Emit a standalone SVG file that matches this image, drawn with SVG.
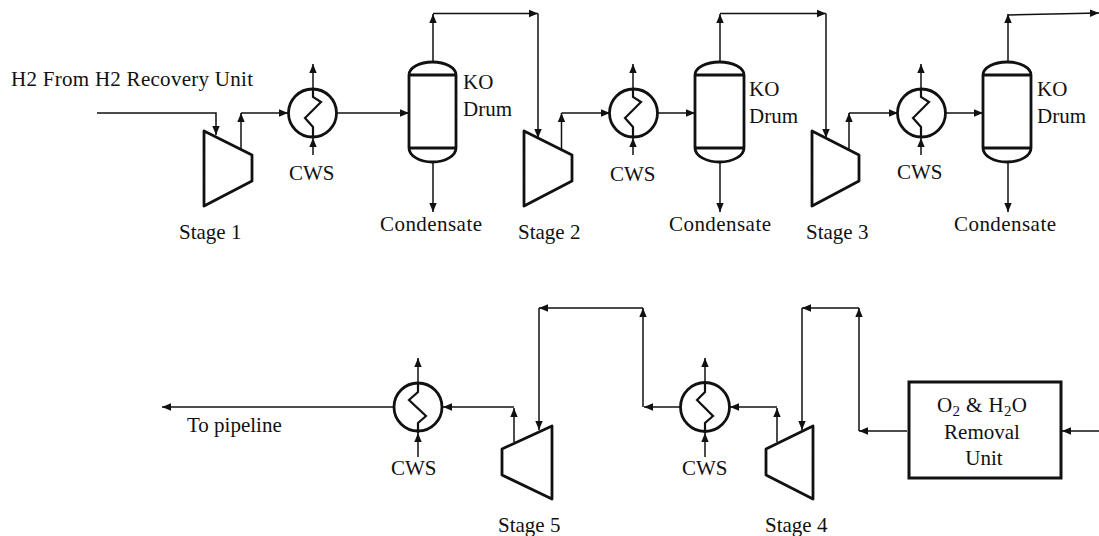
<svg xmlns="http://www.w3.org/2000/svg" width="1099" height="536" viewBox="0 0 1099 536">
<style>
text{font-family:"Liberation Serif","Times New Roman",serif;font-size:21px;fill:#111}
.c{fill:none;stroke:#111;stroke-width:1.5;marker-end:url(#a)}
.s{fill:#fff;stroke:#111;stroke-width:2.800;stroke-linejoin:round}
.o{fill:none}
.z{fill:none;stroke:#111;stroke-width:2.200}
.m{text-anchor:middle}
</style>
<defs>
<marker id="a" markerUnits="userSpaceOnUse" markerWidth="10" markerHeight="10" refX="9" refY="4.5" orient="auto"><path d="M0 0.8L9 4.5L0 8.2z" fill="#111"/></marker>
</defs>
<g id="connectors">
<path class="c" d="M97 113H216V135"/>
<path class="c" d="M241 149V113"/>
<path class="c" d="M241 113H288"/>
<path class="c" d="M336 113H409"/>
<path class="c" d="M433 62V14"/>
<path class="c" d="M433 13.500H538"/>
<path class="c" d="M538 13.500V138"/>
<path class="c" d="M433 162V212"/>
<path class="c" d="M313 88V64"/>
<path class="c" d="M313 155V138"/>
<path class="c" d="M561.500 149V113"/>
<path class="c" d="M561.500 113H610"/>
<path class="c" d="M657 113H695"/>
<path class="c" d="M720 62V14"/>
<path class="c" d="M720 13.500H826"/>
<path class="c" d="M826 13.500V138"/>
<path class="c" d="M720 162V212"/>
<path class="c" d="M633 88V64"/>
<path class="c" d="M633 155V138"/>
<path class="c" d="M849 149V113"/>
<path class="c" d="M849 113H898"/>
<path class="c" d="M945 113H983"/>
<path class="c" d="M1008 62V14"/>
<path class="c" d="M1008 15L1099 13"/>
<path class="c" d="M1008 162V212"/>
<path class="c" d="M921 88V64"/>
<path class="c" d="M921 155V138"/>
<path class="c" d="M394 407H162"/>
<path class="c" d="M514 442V408"/>
<path class="c" d="M514 407H443"/>
<path class="c" d="M418 383V358"/>
<path class="c" d="M418 457V433"/>
<path class="c" d="M643 407V308"/>
<path class="c" d="M643 308H539"/>
<path class="c" d="M539 308V430"/>
<path class="c" d="M680 407H644"/>
<path class="c" d="M777 442V408"/>
<path class="c" d="M777 407H730"/>
<path class="c" d="M705 383V358"/>
<path class="c" d="M705 457V433"/>
<path class="c" d="M859 431V308"/>
<path class="c" d="M859 308H802"/>
<path class="c" d="M802 308V430"/>
<path class="c" d="M907 431H859"/>
<path class="c" d="M1099 431H1062"/>
</g>
<g id="feed-label"><text x="11" y="86" textLength="242">H2 From H2 Recovery Unit</text></g>
<g id="stage1"><path class="s" d="M204 131L252 155V181L204 206z"/><text x="179" y="239">Stage 1</text></g>
<g id="cooler1"><circle class="s o" cx="312.500" cy="113" r="24"/><path class="z" d="M313 88V97L321 102L305 118L313 127V138"/><text x="289" y="180">CWS</text></g>
<g id="drum1"><path class="s o" d="M409 75A23.500 13 0 0 1 456 75V148A23.500 14 0 0 1 409 148zM409 75H456M409 148H456"/><text x="463" y="89">KO</text><text x="463" y="116">Drum</text><text x="380" y="231" textLength="102">Condensate</text></g>
<g id="stage2"><path class="s" d="M524 131L572 155V181L524 206z"/><text x="518" y="239">Stage 2</text></g>
<g id="cooler2"><circle class="s o" cx="633.500" cy="113" r="24"/><path class="z" d="M633 88V97L641 102L625 118L633 127V138"/><text x="610" y="181">CWS</text></g>
<g id="drum2"><path class="s o" d="M695 75A24.500 13 0 0 1 744 75V148A24.500 14 0 0 1 695 148zM695 75H744M695 148H744"/><text x="749" y="96">KO</text><text x="749" y="123">Drum</text><text x="669" y="231" textLength="102">Condensate</text></g>
<g id="stage3"><path class="s" d="M812 131L859 155V181L812 206z"/><text x="806" y="239">Stage 3</text></g>
<g id="cooler3"><circle class="s o" cx="921.500" cy="113" r="24"/><path class="z" d="M921 88V97L929 102L913 118L921 127V138"/><text x="897" y="179">CWS</text></g>
<g id="drum3"><path class="s o" d="M983 75A24 13 0 0 1 1031 75V148A24 14 0 0 1 983 148zM983 75H1031M983 148H1031"/><text x="1037" y="96">KO</text><text x="1037" y="123">Drum</text><text x="954" y="231" textLength="102">Condensate</text></g>
<g id="cooler5"><circle class="s o" cx="418" cy="407" r="24"/><path class="z" d="M418 383V392L409 400L426 416L418 423V433"/><text x="391" y="475">CWS</text></g>
<g id="pipeline-label"><text x="187" y="432">To pipeline</text></g>
<g id="stage5"><path class="s" d="M552 426L502 449V475L552 499z"/><text x="498" y="532">Stage 5</text></g>
<g id="cooler4"><circle class="s o" cx="705" cy="407" r="24.500"/><path class="z" d="M705 383V392L697 400L713 416L705 423V433"/><text x="682" y="475">CWS</text></g>
<g id="stage4"><path class="s" d="M813 426L766 449V475L813 499z"/><text x="765" y="532">Stage 4</text></g>
<g id="removal"><rect x="909" y="382" width="152" height="96" fill="#fff" stroke="#111" stroke-width="3"/>
<text x="937" y="412" textLength="90">O<tspan dy="4" font-size="15">2</tspan><tspan dy="-4"> &amp; H</tspan><tspan dy="4" font-size="15">2</tspan><tspan dy="-4">O</tspan></text>
<text class="m" x="982" y="439">Removal</text><text class="m" x="984" y="465">Unit</text></g>
</svg>
